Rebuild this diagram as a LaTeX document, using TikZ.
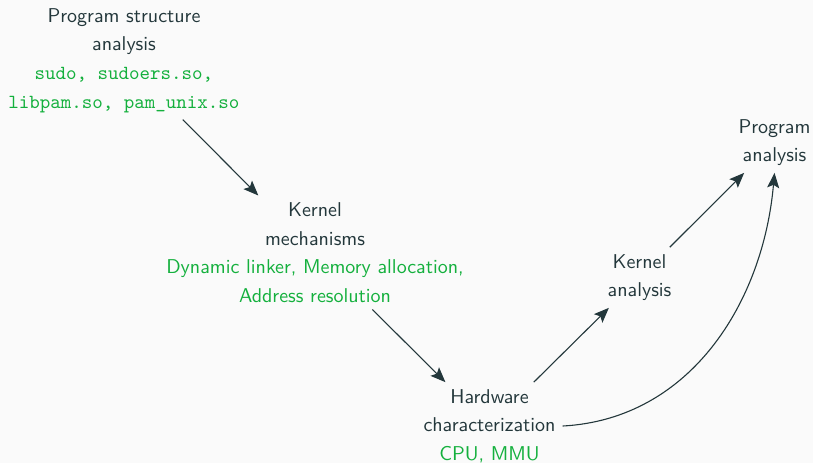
\documentclass[tikz,border=0pt]{standalone}
\usetikzlibrary{arrows.meta}
\definecolor{bgcol}{HTML}{FAFAFA}
\definecolor{ink}{HTML}{23373B}
\definecolor{hl}{HTML}{14B03D}
\begin{document}
\begin{tikzpicture}[x=0.5pt,y=-0.5pt,
  txt/.style={align=center,text=ink,font=\sffamily\fontsize{10}{14.3}\selectfont},
  link/.style={draw=ink,line width=0.55pt,-{Stealth[length=7.5pt,width=6pt,inset=1.5pt]}}]
  \fill[bgcol] (0,0) rectangle (813,463);
  \useasboundingbox (0,0) rectangle (813,463);

  \node[txt] (A) at (124,60.5) {Program structure\\ analysis\\
    \textcolor{hl}{\ttfamily sudo, sudoers.so,}\\
    \textcolor{hl}{\ttfamily libpam.so, pam\_unix.so}};
  \node[txt] (B) at (315,252.5) {Kernel\\ mechanisms\\
    \textcolor{hl}{Dynamic linker, Memory allocation,}\\
    \textcolor{hl}{Address resolution}};
  \node[txt] (C) at (489.5,426) {Hardware\\ characterization\\
    \textcolor{hl}{CPU, MMU}};
  \node[txt] (D) at (639.5,277.5) {Kernel\\ analysis};
  \node[txt] (E) at (774.5,142.5) {Program\\ analysis};

  \draw[link] (A) -- (B);
  \draw[link] (B) -- (C);
  \draw[link] (C) -- (D);
  \draw[link] (D) -- (E);
  \draw[link] (C.east) to[out=3,in=-95] (E.south);
\end{tikzpicture}
\end{document}
